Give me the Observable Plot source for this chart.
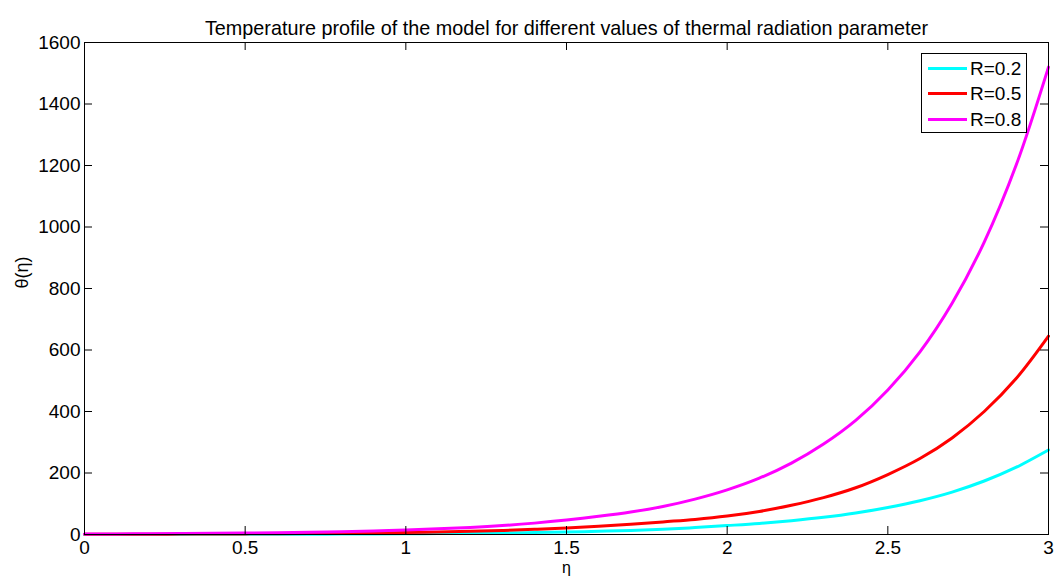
<!DOCTYPE html>
<html>
<head>
<meta charset="utf-8">
<script src="https://cdn.jsdelivr.net/npm/d3@7"></script>
<script src="https://cdn.jsdelivr.net/npm/@observablehq/plot@0.6"></script>
<style>
  html, body { margin: 0; padding: 0; background: #fff; }
  #wrap { position: relative; width: 1056px; height: 578px; font-family: "Liberation Sans", Arial, sans-serif; }
  #legend { position: absolute; left: 921px; top: 53px; width: 106px; height: 80px; background: #fff; border: 1px solid #000; box-sizing: border-box; }
  .row { position: absolute; left: 0; height: 26px; display: flex; align-items: center; }
  .sw { display: inline-block; width: 39px; height: 3px; margin-left: 6px; margin-right: 3px; }
  .lb { font-size: 19px; color: #000; line-height: 1; }
</style>
</head>
<body>
<div id="wrap"><div id="chart"></div><div id="legend"></div></div>
<script>
const title = "Temperature profile of the model for different values of thermal radiation parameter";
const xLabel = "η";
const yLabel = "θ(η)";
const seriesNames = ["R=0.2", "R=0.5", "R=0.8"];
const seriesColors = ["#00ffff", "#ff0000", "#ff00ff"];
const xTicks = [0, 0.5, 1, 1.5, 2, 2.5, 3];
const yTicks = [0, 200, 400, 600, 800, 1000, 1200, 1400, 1600];

const eta = [0, 0.1, 0.2, 0.3, 0.4, 0.5, 0.6, 0.7, 0.8, 0.9, 1.0,
             1.1, 1.2, 1.3, 1.4, 1.5, 1.6, 1.7, 1.8, 1.9, 2.0,
             2.1, 2.2, 2.3, 2.4, 2.5, 2.6, 2.7, 2.8, 2.9, 3.0];
const thetaR02 = [0.2, 0.25, 0.3, 0.4, 0.5, 0.6, 0.8, 1.0, 1.3, 1.7, 2.2,
                  2.9, 3.7, 4.8, 6.2, 8.0, 10.3, 13.2, 17, 22.5, 29,
                  36, 45, 56, 70, 88, 110, 138, 174, 219, 275];
const thetaR05 = [0.65, 0.8, 1.0, 1.3, 1.6, 2.0, 2.5, 3.2, 4.0, 5.1, 6.5,
                  8.2, 10.4, 13.2, 16.7, 21, 26.5, 33, 41, 49, 60,
                  75, 95, 120, 152, 195, 247, 314, 400, 508, 645];
const thetaR08 = [1.5, 1.9, 2.4, 3.0, 3.7, 4.7, 5.9, 7.4, 9.3, 11.7, 14.7,
                  18.5, 23, 29, 37, 47, 59, 73, 91, 115, 145,
                  183, 232, 294, 371, 470, 594, 752, 951, 1203, 1520];

const seriesValues = [thetaR02, thetaR05, thetaR08];
const data = [];
seriesNames.forEach((name, s) => {
  eta.forEach((e, i) => data.push({eta: e, theta: seriesValues[s][i], series: name}));
});

const W = 1056, H = 578, mL = 84, mR = 8, mT = 42, mB = 44;
const plotW = W - mL - mR, plotH = H - mT - mB;
const tickLen = 8;
const ink = "#000";

const chart = Plot.plot({
  width: W, height: H,
  marginLeft: mL, marginRight: mR, marginTop: mT, marginBottom: mB,
  style: {fontFamily: '"Liberation Sans", Arial, sans-serif', fontSize: "19px", color: ink, background: "#fff", overflow: "visible"},
  x: {domain: [0, 3], label: null},
  y: {domain: [0, 1600], label: null},
  color: {domain: seriesNames, range: seriesColors},
  marks: [
    Plot.lineY(data, {x: "eta", y: "theta", stroke: "series", strokeWidth: 3, curve: "catmull-rom"}),
    Plot.frame({stroke: ink, strokeWidth: 1}),
    Plot.tickX(xTicks, {x: d => d, insetTop: plotH - tickLen, stroke: ink}),
    Plot.tickX(xTicks, {x: d => d, insetBottom: plotH - tickLen, stroke: ink}),
    Plot.tickY(yTicks, {y: d => d, insetRight: plotW - tickLen, stroke: ink}),
    Plot.tickY(yTicks, {y: d => d, insetLeft: plotW - tickLen, stroke: ink}),
    Plot.axisX({ticks: xTicks, tickSize: 0, tickPadding: 6, label: null, tickFormat: d => String(d), fontSize: 19}),
    Plot.axisY({ticks: yTicks, tickSize: 0, tickPadding: 4, label: null, tickFormat: d => String(d), fontSize: 19}),
    Plot.text([title], {text: d => d, frameAnchor: "top", dy: -22, fontSize: 19.8, fill: ink}),
    Plot.text([xLabel], {text: d => d, frameAnchor: "bottom", dy: 38, fontSize: 16, fill: ink}),
    Plot.text([yLabel], {text: d => d, frameAnchor: "left", dx: -62, rotate: -90, fontSize: 18, fill: ink})
  ]
});
document.getElementById("chart").appendChild(chart);

const legend = document.getElementById("legend");
seriesNames.forEach((name, i) => {
  const row = document.createElement("div");
  row.className = "row";
  row.style.top = (1 + i * 25.5) + "px";
  const sw = document.createElement("span");
  sw.className = "sw";
  sw.style.background = seriesColors[i];
  const lb = document.createElement("span");
  lb.className = "lb";
  lb.textContent = name;
  row.appendChild(sw); row.appendChild(lb);
  legend.appendChild(row);
});
</script>
</body>
</html>
